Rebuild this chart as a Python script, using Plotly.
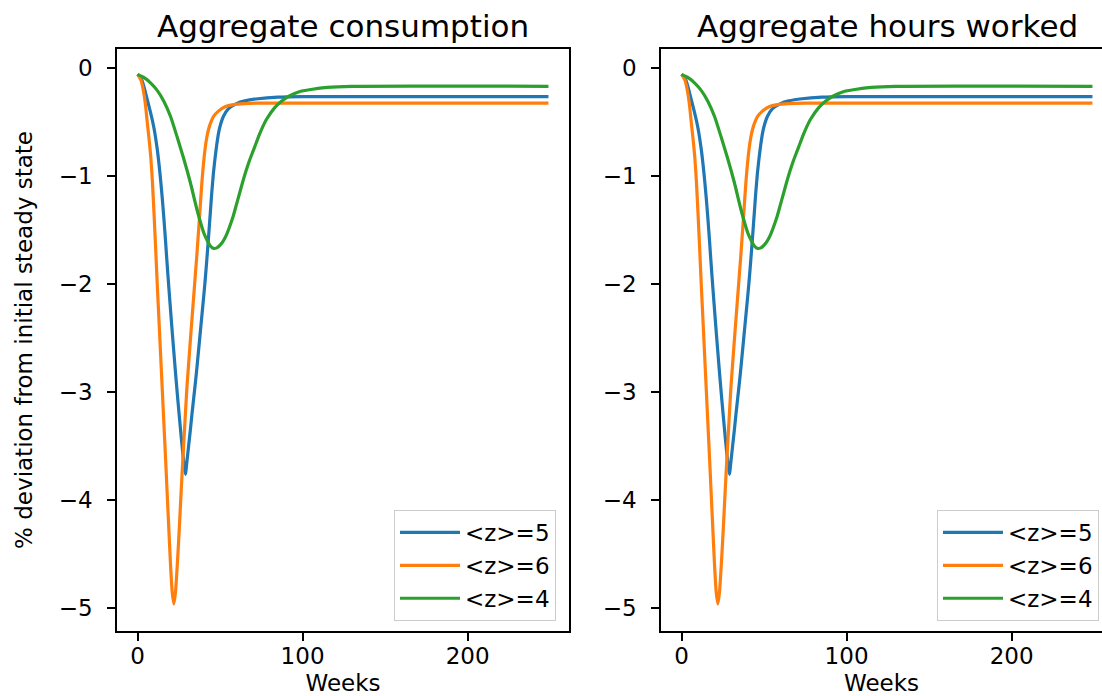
import plotly.graph_objects as go

W, H = 1102, 696

# ---------------- data ----------------
series_names = ["&lt;z&gt;=5", "&lt;z&gt;=6", "&lt;z&gt;=4"]
colors = ["#1f77b4", "#ff7f0e", "#2ca02c"]
titles = ["Aggregate consumption", "Aggregate hours worked"]

weeks_z5 = [0, 2, 4, 6, 8, 10, 12, 13, 14, 15, 16, 17, 18, 19, 20, 21, 22, 23, 24, 25,
            26, 27, 28, 29, 30, 31, 32, 33, 34, 35, 36, 37, 38, 39, 40, 41, 42, 43, 44,
            45, 46, 47, 48, 49, 50, 52, 55, 60, 65, 73, 85, 100, 249]
cons_z5 = [-0.06, -0.09, -0.18, -0.30, -0.42, -0.56, -0.76, -0.89, -1.04, -1.21, -1.40,
           -1.61, -1.83, -2.04, -2.24, -2.44, -2.63, -2.82, -3.00, -3.17, -3.34, -3.50,
           -3.65, -3.76, -3.63, -3.49, -3.35, -3.20, -3.06, -2.92, -2.77, -2.61, -2.45,
           -2.29, -2.13, -1.96, -1.77, -1.57, -1.36, -1.15, -0.97, -0.83, -0.71, -0.61,
           -0.54, -0.45, -0.38, -0.33, -0.305, -0.285, -0.27, -0.265, -0.265]

weeks_z6 = [0, 2, 4, 5, 6, 7, 8, 9, 10, 11, 12, 13, 14, 15, 16, 17, 18, 19, 20, 21, 22,
            23, 24, 25, 26, 27, 28, 29, 30, 31, 32, 33, 34, 35, 36, 37, 38, 39, 40, 41,
            42, 43, 44, 46, 49, 53, 58, 65, 75, 249]
cons_z6 = [-0.06, -0.11, -0.25, -0.37, -0.52, -0.66, -0.82, -1.05, -1.35, -1.68, -2.02,
           -2.34, -2.66, -2.98, -3.30, -3.62, -3.95, -4.28, -4.60, -4.85, -4.96, -4.85,
           -4.62, -4.35, -4.05, -3.75, -3.47, -3.20, -2.94, -2.73, -2.52, -2.32, -2.12,
           -1.92, -1.72, -1.50, -1.28, -1.06, -0.88, -0.74, -0.64, -0.57, -0.52, -0.45,
           -0.40, -0.36, -0.34, -0.33, -0.325, -0.325]

weeks_z4 = [0, 4, 8, 12, 16, 20, 24, 28, 32, 36, 40, 42, 44, 46, 48, 50, 52, 54, 56, 58,
            60, 62, 64, 66, 68, 70, 72, 74, 78, 83, 87, 92, 98, 105, 115, 130, 249]
cons_z4 = [-0.06, -0.09, -0.14, -0.21, -0.31, -0.45, -0.64, -0.84, -1.06, -1.31, -1.52,
           -1.59, -1.645, -1.67, -1.665, -1.64, -1.60, -1.54, -1.46, -1.37, -1.26, -1.15,
           -1.04, -0.94, -0.85, -0.77, -0.69, -0.61, -0.48, -0.37, -0.31, -0.26, -0.22,
           -0.20, -0.18, -0.17, -0.17]

# the hours-worked panel reads identically to the consumption panel
hours_z5 = list(cons_z5)
hours_z6 = list(cons_z6)
hours_z4 = list(cons_z4)

yticks = [0, -1, -2, -3, -4, -5]
ytick_text = ["0", "\u22121", "\u22122", "\u22123", "\u22124", "\u22125"]
xticks = [0, 100, 200]
xtick_text = ["0", "100", "200"]

# ---------------- figure ----------------
FONT = "DejaVu Sans"
TICK_FS = 23
TITLE_FS = 31

fig = go.Figure()

panels = [
    ("x", "y", "legend", [(weeks_z5, cons_z5), (weeks_z6, cons_z6), (weeks_z4, cons_z4)]),
    ("x2", "y2", "legend2", [(weeks_z5, hours_z5), (weeks_z6, hours_z6), (weeks_z4, hours_z4)]),
]
for xa, ya, leg, series in panels:
    for (wk, vals), name, col in zip(series, series_names, colors):
        fig.add_trace(go.Scatter(
            x=wk, y=vals, mode="lines", name=name,
            line=dict(color=col, width=3.2, shape="spline", smoothing=0.6),
            xaxis=xa, yaxis=ya, legend=leg, showlegend=True,
        ))

def px_x(p):
    return p / W

def px_y(p):
    return 1 - p / H

left_dom = [px_x(117), px_x(569)]
right_dom = [px_x(661), 1.0]
y_dom = [px_y(631), px_y(49)]

x_lo = -12.45
px_per_unit = 452 / 273.9
x_range_left = [x_lo, 261.45]
x_range_right = [x_lo, x_lo + 441 / px_per_unit]
y_range = [-5.21, 0.175]

axis_common = dict(
    showgrid=False, zeroline=False, showline=True, linecolor="black", linewidth=1.6,
    ticks="outside", ticklen=8, tickwidth=1.6, tickcolor="black",
    tickfont=dict(family=FONT, size=TICK_FS, color="black"),
)

fig.update_layout(
    width=W, height=H,
    margin=dict(l=0, r=0, t=0, b=0),
    paper_bgcolor="white", plot_bgcolor="white",
    font=dict(family=FONT, size=TICK_FS, color="black"),
    xaxis=dict(domain=left_dom, range=x_range_left, anchor="y", mirror=True,
               tickvals=xticks, ticktext=xtick_text, ticklabelstandoff=-4,
               title=dict(text="Weeks", standoff=9, font=dict(family=FONT, size=TICK_FS)),
               **axis_common),
    yaxis=dict(domain=y_dom, range=y_range, anchor="x", mirror=True,
               tickvals=yticks, ticktext=ytick_text, ticklabelstandoff=10,
               title=dict(text="% deviation from initial steady state", standoff=20,
                          font=dict(family=FONT, size=TICK_FS)),
               **axis_common),
    xaxis2=dict(domain=right_dom, range=x_range_right, anchor="y2", mirror=True,
                tickvals=xticks, ticktext=xtick_text, ticklabelstandoff=-4,
                title=dict(text="Weeks", standoff=9, font=dict(family=FONT, size=TICK_FS)),
                **axis_common),
    yaxis2=dict(domain=y_dom, range=y_range, anchor="x2", mirror=False,
                tickvals=yticks, ticktext=ytick_text, ticklabelstandoff=10,
                **axis_common),
    legend=dict(x=px_x(556), y=px_y(621), xanchor="right", yanchor="bottom",
                bgcolor="rgba(255,255,255,0.8)", bordercolor="#cccccc", borderwidth=1,
                font=dict(family=FONT, size=TICK_FS, color="black"), itemwidth=60),
    legend2=dict(x=px_x(1099), y=px_y(621), xanchor="right", yanchor="bottom",
                 bgcolor="rgba(255,255,255,0.8)", bordercolor="#cccccc", borderwidth=1,
                 font=dict(family=FONT, size=TICK_FS, color="black"), itemwidth=60),
    showlegend=True,
)

title_doms = [left_dom, [px_x(661), px_x(1113)]]
for dom, txt in zip(title_doms, titles):
    fig.add_annotation(
        text=txt, x=(dom[0] + dom[1]) / 2, y=px_y(46), xref="paper", yref="paper",
        xanchor="center", yanchor="bottom", showarrow=False,
        font=dict(family=FONT, size=TITLE_FS, color="black"),
    )

fig.write_html("out.html",
               config={"displayModeBar": False},
               post_script="document.body.style.margin='0px';document.body.style.overflow='hidden';")
